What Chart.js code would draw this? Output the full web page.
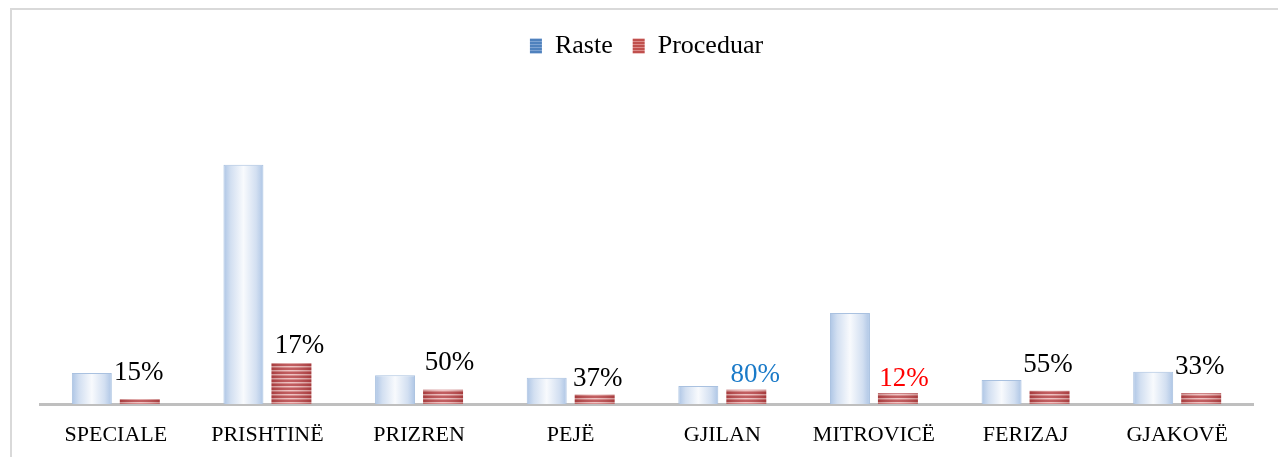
<!DOCTYPE html>
<html><head><meta charset="utf-8">
<script src="https://cdn.jsdelivr.net/npm/chart.js@4.4.1/dist/chart.umd.min.js"></script>
<style>
html,body{margin:0;padding:0;background:#fff;overflow:hidden}
#wrap{position:relative;width:1278px;height:457px}
#frame{position:absolute;left:10px;top:8px;right:-10px;bottom:-10px;border-left:2px solid #d9d9d9;border-top:2px solid #d9d9d9}
canvas{position:absolute;left:0;top:0}
</style></head><body>
<div id="wrap"><div id="frame"></div><canvas id="c" width="1278" height="457"></canvas></div>
<script>
// ---- data ----
const categories = ['SPECIALE','PRISHTINË','PRIZREN','PEJË','GJILAN','MITROVICË','FERIZAJ','GJAKOVË'];
const raste = [26, 200, 24, 22, 15, 76, 20, 27];
const proceduar = [4, 34, 12, 8, 12, 9, 11, 9];
const percentLabels = ['15%','17%','50%','37%','80%','12%','55%','33%'];
const seriesNames = ['Raste', 'Proceduar'];

// ---- style ----
const FONT = 'Liberation Serif';
const CAT_PCT = 0.633, BAR_PCT = 0.833;
const labelColors = ['#000','#000','#000','#000','#1a7ac8','#ff0000','#000','#000'];
const labelNudge = [[-1,-26],[8,-17],[6.5,-27],[3,-16],[9,-15],[6,-14.5],[-1.5,-25.5],[-1.5,-26]];

function barGeom(chart, index, dsIndex) {
  const xs = chart.scales.x, area = chart.chartArea;
  if (!xs || !area) return null;
  const cat = area.width / categories.length;
  const slot = cat * CAT_PCT / 2, bw = slot * BAR_PCT;
  const cx = xs.getPixelForValue(index) + (dsIndex === 0 ? -slot / 2 : slot / 2);
  return { left: cx - bw / 2, width: bw };
}
function rasteFill(c) {
  const g0 = barGeom(c.chart, c.dataIndex, 0);
  if (!g0) return '#d6e2f2';
  const g = c.chart.ctx.createLinearGradient(g0.left, 0, g0.left + g0.width, 0);
  g.addColorStop(0, '#adc5e5');
  g.addColorStop(0.18, '#d2dff1');
  g.addColorStop(0.5, '#f8fafd');
  g.addColorStop(0.82, '#d2dff1');
  g.addColorStop(1, '#adc5e5');
  return g;
}
function procFill(c) {
  const g0 = barGeom(c.chart, c.dataIndex, 1);
  if (!g0) return '#c0504d';
  const w = Math.max(1, Math.round(g0.width)), h = 4;
  const oc = document.createElement('canvas'); oc.width = w; oc.height = h;
  const o = oc.getContext('2d');
  o.fillStyle = '#b9474a'; o.fillRect(0, 0, w, 2);
  o.fillStyle = '#eebcbc'; o.fillRect(0, 2, w, 1);
  o.fillStyle = '#d27f7f'; o.fillRect(0, 3, w, 1);
  const g = o.createLinearGradient(0, 0, w, 0);
  g.addColorStop(0, 'rgba(110,20,20,0.25)');
  g.addColorStop(0.5, 'rgba(255,255,255,0.12)');
  g.addColorStop(1, 'rgba(110,20,20,0.25)');
  o.fillStyle = g; o.fillRect(0, 0, w, h);
  const p = c.chart.ctx.createPattern(oc, 'repeat');
  p.setTransform(new DOMMatrix([1, 0, 0, 1, Math.round(g0.left), 0]));
  return p;
}
function legendPattern(dark, light) {
  const oc = document.createElement('canvas'); oc.width = 4; oc.height = 3;
  const o = oc.getContext('2d');
  o.fillStyle = dark; o.fillRect(0, 0, 4, 2);
  o.fillStyle = light; o.fillRect(0, 2, 4, 1);
  return document.getElementById('c').getContext('2d').createPattern(oc, 'repeat');
}
const legendFills = [legendPattern('#4f81bd', '#7ea3d2'), legendPattern('#c0504d', '#dc8c8a')];

const pctLabelPlugin = {
  id: 'pctLabels',
  afterDatasetsDraw(chart) {
    const meta = chart.getDatasetMeta(1), ctx = chart.ctx;
    ctx.save();
    ctx.font = '27px "' + FONT + '"';
    ctx.textAlign = 'center';
    ctx.textBaseline = 'middle';
    meta.data.forEach((el, i) => {
      ctx.fillStyle = labelColors[i];
      ctx.fillText(percentLabels[i], el.x + labelNudge[i][0], el.y + labelNudge[i][1]);
    });
    ctx.restore();
  }
};

new Chart(document.getElementById('c'), {
  type: 'bar',
  data: {
    labels: categories,
    datasets: [
      { label: seriesNames[0], data: raste, backgroundColor: rasteFill, borderColor: '#a9c1e0', borderWidth: 1,
        categoryPercentage: CAT_PCT, barPercentage: BAR_PCT },
      { label: seriesNames[1], data: proceduar, backgroundColor: procFill, borderWidth: 0,
        categoryPercentage: CAT_PCT, barPercentage: BAR_PCT }
    ]
  },
  options: {
    responsive: false,
    animation: false,
    events: [],
    layout: { padding: { top: 13, left: 40, right: 25, bottom: 0 } },
    plugins: {
      tooltip: { enabled: false },
      legend: {
        position: 'top',
        labels: {
          font: { family: FONT, size: 26 },
          color: '#000',
          boxWidth: 12, boxHeight: 15, padding: 20,
          generateLabels(chart) {
            return chart.data.datasets.map((ds, i) => ({
              text: ds.label, fillStyle: legendFills[i], strokeStyle: 'rgba(0,0,0,0)', lineWidth: 0,
              hidden: false, datasetIndex: i
            }));
          }
        }
      }
    },
    scales: {
      x: {
        grid: { display: false, drawTicks: false },
        border: { display: true, color: '#bfbfbf', width: 3 },
        ticks: { font: { family: FONT, size: 22 }, color: '#000', padding: 18.5, maxRotation: 0, autoSkip: false },
        afterFit(scale) { scale.height = 53; }
      },
      y: { display: false, min: 0, max: 280 }
    }
  },
  plugins: [pctLabelPlugin]
});
</script>
</body></html>
